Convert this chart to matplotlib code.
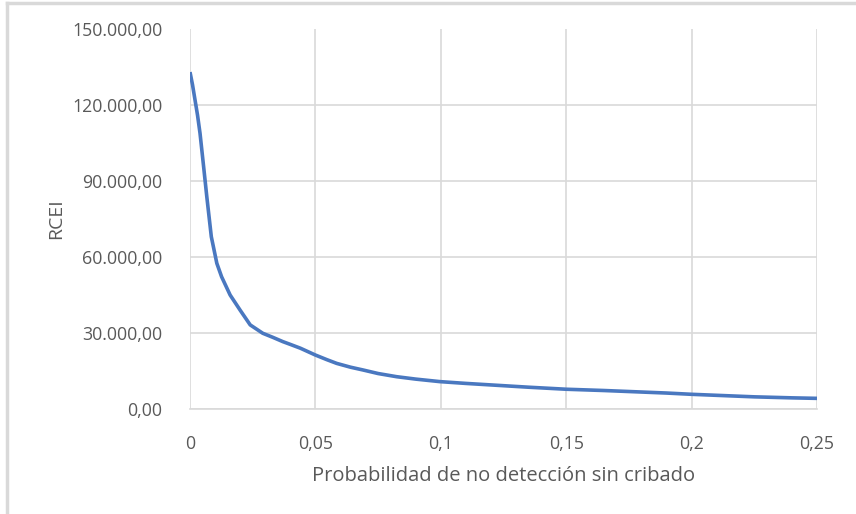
import matplotlib
matplotlib.use("Agg")
import matplotlib.pyplot as plt
from matplotlib.lines import Line2D
from matplotlib.ticker import FuncFormatter

# values
prob_no_deteccion = [0.0, 0.001, 0.002, 0.003, 0.004, 0.0055, 0.0067, 0.0085, 0.0107,
                     0.0126, 0.016, 0.020, 0.024, 0.029, 0.033, 0.037, 0.040, 0.044,
                     0.050, 0.0545, 0.0585, 0.064, 0.069, 0.075, 0.0824, 0.090,
                     0.0997, 0.110, 0.125, 0.135, 0.150, 0.165, 0.175, 0.190,
                     0.200, 0.210, 0.225, 0.240, 0.250]
rcei = [133000, 128000, 122000, 116000, 108800, 95000, 83800, 68000, 57500,
        52200, 45000, 39000, 33200, 29900, 28300, 26600, 25500, 24000,
        21300, 19500, 18000, 16500, 15400, 14000, 12750, 11800,
        10800, 10100, 9200, 8600, 7800, 7300, 6900, 6300,
        5800, 5400, 4800, 4400, 4200]

x_ticks = [0, 0.05, 0.1, 0.15, 0.2, 0.25]
x_tick_labels = ["0", "0,05", "0,1", "0,15", "0,2", "0,25"]
y_ticks = [0, 30000, 60000, 90000, 120000, 150000]

TEXT = "#595959"
GRID = "#d9d9d9"
plt.rcParams['font.family'] = ['Open Sans', 'DejaVu Sans']

fig = plt.figure(figsize=(8.56, 5.14), dpi=100)
ax = fig.add_axes([190 / 856, 1 - 409 / 514, 627 / 856, 380 / 514])

ax.plot(prob_no_deteccion, rcei, color="#4a78c0", linewidth=2.6,
        solid_joinstyle="round", solid_capstyle="butt")

ax.set_xlim(0, 0.25)
ax.set_ylim(0, 150000)
ax.set_xticks(x_ticks)
ax.set_xticklabels(x_tick_labels)
ax.set_yticks(y_ticks)


def es_fmt(v, pos):
  return f"{v:,.2f}".replace(",", "X").replace(".", ",").replace("X", ".")


ax.yaxis.set_major_formatter(FuncFormatter(es_fmt))
ax.tick_params(length=0, labelsize=12.8, labelcolor=TEXT)
ax.tick_params(axis="y", pad=20)
ax.tick_params(axis="x", pad=19)

ax.grid(True, color=GRID, linewidth=1.2)
ax.set_axisbelow(True)
# no gridline at the top value in the reference
ax.get_ygridlines()[-1].set_visible(False)
for side in ["top", "right", "left"]:
  ax.spines[side].set_visible(False)
ax.spines["bottom"].set_color(GRID)
ax.spines["bottom"].set_linewidth(1.2)

ax.set_xlabel("Probabilidad de no detección sin cribado", fontsize=14.5, color=TEXT, labelpad=9)
ax.set_ylabel("RCEI", fontsize=14, color=TEXT, labelpad=5)

# frame line on top and left of the chart area
fig.add_artist(Line2D([7 / 856, 7 / 856], [0, 1 - 3 / 514], color=GRID, linewidth=2.5))
fig.add_artist(Line2D([7 / 856, 1], [1 - 3 / 514, 1 - 3 / 514], color=GRID, linewidth=2.5))

fig.savefig("out.png", dpi=100)
plt.close(fig)
